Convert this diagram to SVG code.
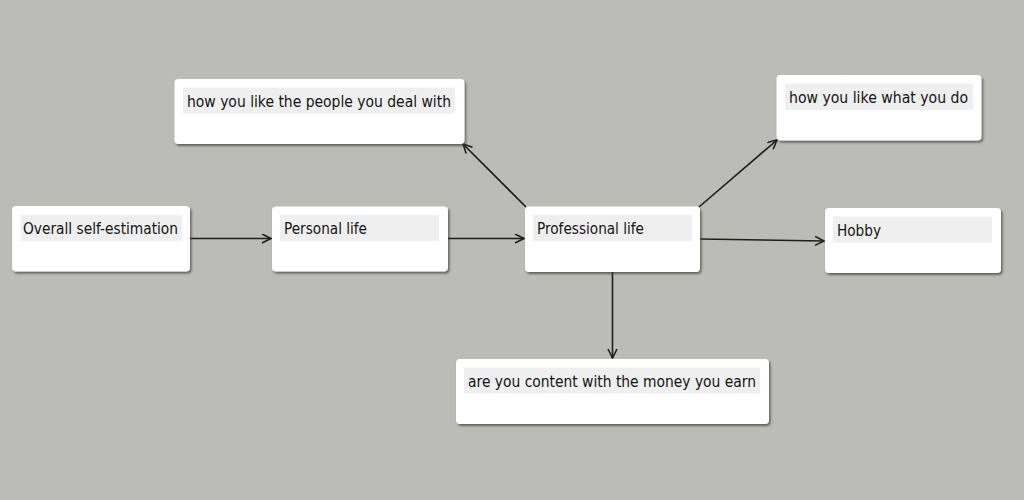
<svg xmlns="http://www.w3.org/2000/svg" width="1024" height="500" viewBox="0 0 1024 500">
<style>
.box{fill:#ffffff;filter:url(#sh)}
.lbl{fill:#efefef}
.t{font-family:"DejaVu Sans","Liberation Sans",sans-serif;font-size:16px;fill:#141414}
.c{stroke:#1e1e1e;stroke-width:1.6;fill:none;marker-end:url(#ah)}
</style>
<defs>
<filter id="sh" x="-10%" y="-20%" width="120%" height="150%">
<feDropShadow dx="1.5" dy="2" stdDeviation="1" flood-color="#3a3a3a" flood-opacity="0.7"/>
</filter>
<marker id="ah" markerUnits="userSpaceOnUse" markerWidth="12" markerHeight="12" refX="10" refY="5" orient="auto">
<path d="M1,0.5 L10,5 L1,9.5" fill="none" stroke="#1e1e1e" stroke-width="1.6"/>
</marker>
</defs>
<rect width="1024" height="500" fill="#babcb5"/>
<g id="connectors">
<line class="c" x1="190" y1="238.5" x2="271" y2="238.5"/>
<line class="c" x1="448" y1="238.5" x2="524" y2="238.5"/>
<line class="c" x1="700" y1="239" x2="824" y2="241"/>
<line class="c" x1="526" y1="207" x2="463" y2="144"/>
<line class="c" x1="699" y1="207" x2="777" y2="140"/>
<line class="c" x1="612.5" y1="272" x2="612.5" y2="358"/>
</g>
<g id="n1">
<rect class="box" x="12" y="206" width="178" height="65.5" rx="4"/>
<rect class="lbl" x="21" y="215" width="161" height="26"/>
<text class="t" x="23" y="234" textLength="155" lengthAdjust="spacingAndGlyphs">Overall self-estimation</text>
</g>
<g id="n2">
<rect class="box" x="272" y="206.5" width="176" height="65" rx="4"/>
<rect class="lbl" x="280" y="215" width="159" height="26"/>
<text class="t" x="284" y="234" textLength="83" lengthAdjust="spacingAndGlyphs">Personal life</text>
</g>
<g id="n3">
<rect class="box" x="525" y="206.5" width="175" height="65.5" rx="4"/>
<rect class="lbl" x="533" y="215" width="159" height="26"/>
<text class="t" x="537" y="234" textLength="107" lengthAdjust="spacingAndGlyphs">Professional life</text>
</g>
<g id="n4">
<rect class="box" x="776.5" y="75" width="205" height="65.5" rx="4"/>
<rect class="lbl" x="785" y="83.5" width="188" height="26.5"/>
<text class="t" x="789" y="103" textLength="179" lengthAdjust="spacingAndGlyphs">how you like what you do</text>
</g>
<g id="n5">
<rect class="box" x="825" y="208" width="176" height="65" rx="4"/>
<rect class="lbl" x="833" y="216.5" width="159" height="26"/>
<text class="t" x="837" y="236" textLength="44" lengthAdjust="spacingAndGlyphs">Hobby</text>
</g>
<g id="n6">
<rect class="box" x="174.5" y="79" width="290" height="65" rx="4"/>
<rect class="lbl" x="183" y="87.5" width="272" height="26"/>
<text class="t" x="187" y="106.5" textLength="264" lengthAdjust="spacingAndGlyphs">how you like the people you deal with</text>
</g>
<g id="n7">
<rect class="box" x="456" y="359" width="313" height="65" rx="4"/>
<rect class="lbl" x="464" y="367.5" width="296" height="26"/>
<text class="t" x="468" y="387" textLength="288" lengthAdjust="spacingAndGlyphs">are you content with the money you earn</text>
</g>
</svg>
